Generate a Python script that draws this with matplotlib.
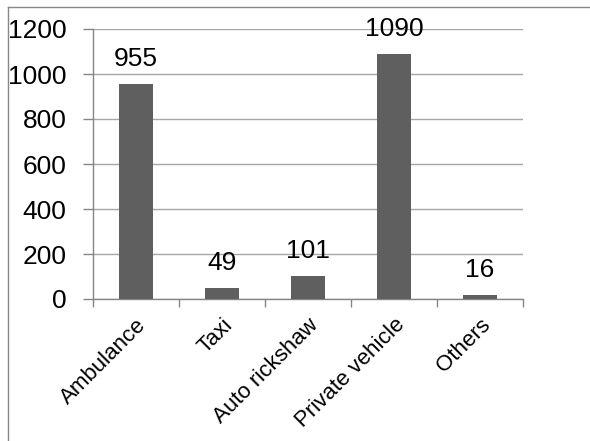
import matplotlib
matplotlib.use("Agg")
import matplotlib.pyplot as plt
from matplotlib.lines import Line2D
from matplotlib.transforms import ScaledTranslation

categories = ["Ambulance", "Taxi", "Auto rickshaw", "Private vehicle", "Others"]
values = [955, 49, 101, 1090, 16]
yticks = [0, 200, 400, 600, 800, 1000, 1200]

plt.rcParams['font.family'] = ['Liberation Sans', 'DejaVu Sans']

W, H = 590, 441
fig = plt.figure(figsize=(W/100, H/100), dpi=100)
ax = fig.add_axes([93/W, 1 - 299/H, (523-93)/W, (299-29)/H])

x = list(range(len(categories)))
bars = ax.bar(x, values, width=0.385, color='#5f5f5f', zorder=3)
ax.set_xlim(-0.5, len(categories) - 0.5)
ax.set_ylim(0, 1200)
ax.set_yticks(yticks)
ax.set_yticklabels([str(t) for t in yticks], fontsize=19)
ax.yaxis.grid(True, color='#a6a6a6', linewidth=1.0, zorder=0)
ax.set_xticks([i - 0.5 for i in range(len(categories) + 1)], minor=False)
ax.set_xticklabels([])
ax.set_xticks(x, minor=True)
ax.set_xticklabels(categories, minor=True, rotation=45, ha='right',
                   rotation_mode='anchor', fontsize=16)
offset = ScaledTranslation(-4/100, 0, fig.dpi_scale_trans)
for lab in ax.get_xticklabels(minor=True):
    lab.set_transform(lab.get_transform() + offset)
ax.tick_params(axis='x', which='minor', length=0, pad=11)
ax.tick_params(axis='x', which='major', length=6, color='#868686', width=1)
ax.tick_params(axis='y', length=7, color='#868686', width=1, pad=12)
for s in ['top', 'right']:
    ax.spines[s].set_visible(False)
for s in ['left', 'bottom']:
    ax.spines[s].set_color('#868686')
    ax.spines[s].set_linewidth(1)

for xi, v in zip(x, values):
    ax.annotate(str(v), (xi, v), xytext=(0, 13), textcoords='offset points',
                ha='center', va='baseline', fontsize=19)

fig.add_artist(Line2D([8/W, 8/W], [0, 1 - 7/H], transform=fig.transFigure,
                      color='#888888', linewidth=1))
fig.add_artist(Line2D([8/W, 1], [1 - 7/H, 1 - 7/H], transform=fig.transFigure,
                      color='#888888', linewidth=1))

fig.savefig("out.png", dpi=100)
